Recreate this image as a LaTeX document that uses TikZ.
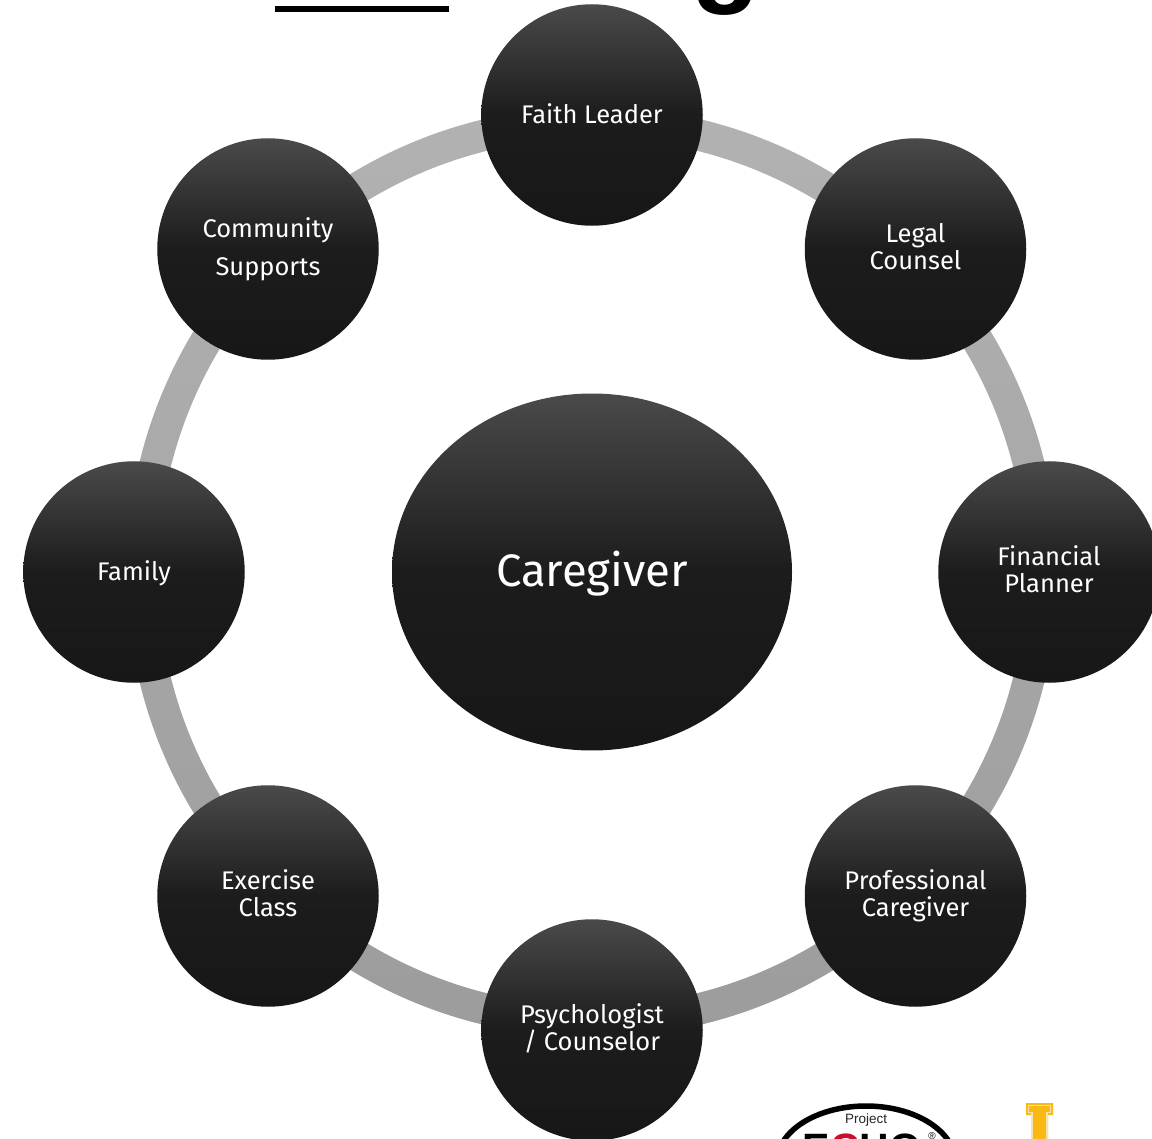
\documentclass[tikz,border=0pt]{standalone}
\usepackage{fontspec}
\setmainfont{Fira Sans}
\newfontfamily\logofont{Liberation Sans}
\usetikzlibrary{calc,shapes.geometric}
\definecolor{ringtop}{HTML}{B2B2B2}
\definecolor{ringbot}{HTML}{9C9C9C}
\definecolor{ctop}{HTML}{4A4A4A}
\definecolor{cbot}{HTML}{171717}
\definecolor{cmid}{HTML}{1C1C1C}
\definecolor{gold}{HTML}{FDB913}
\definecolor{cream}{HTML}{F3E3B0}
\definecolor{echored}{HTML}{C8102E}
\tikzset{
  x=1pt,y=-1pt,
  ball/.style={circle,minimum size=221.5pt,inner sep=0pt,text=white,align=center,
    top color=ctop,bottom color=cbot,middle color=cmid,
    execute at begin node={\rule{0pt}{0.86em}},
    execute at end node=\vphantom{gp},
    font=\fontsize{25.5}{27}\selectfont},
  centre/.style={ellipse,minimum width=400pt,minimum height=357pt,inner sep=0pt,text=white,
    top color=ctop,bottom color=cbot,middle color=cmid,
    execute at begin node={\rule{0pt}{0.83em}},
    execute at end node=\vphantom{gp},
    font=\fontsize{45.5}{50}\selectfont},
}
\begin{document}
\begin{tikzpicture}
\useasboundingbox (0,0) rectangle (1152,1139);
\begin{scope}
\clip (0,0) rectangle (1152,1139);
% ring
\shade[top color=ringtop,bottom color=ringbot,even odd rule]
  (592,572) circle[radius=465.5] (592,572) circle[radius=434];
% title fragments
\fill[black] (275,6) rectangle (449,12);
\node[anchor=base,font=\logofont\fontsize{113}{113}\selectfont\bfseries,text=black,inner sep=0pt] (titleg) at (726,-8) {g};
% nodes
\node[centre] (care) at (592,572) {Caregiver};
\node[ball] (faith) at (592,115) {Faith Leader};
\node[ball] (legal) at (915.5,249) {Legal\\Counsel};
\node[ball] (fin) at (1049,572) {Financial\\Planner};
\node[ball] (prof) at (915.5,896) {Professional\\Caregiver};
\node[ball] (psy) at (592,1030) {Psychologist\\/ Counselor};
\node[ball] (ex) at (268,896) {Exercise\\Class};
\node[ball] (fam) at (134,572) {Family};
\node[ball,font=\fontsize{25.5}{38}\selectfont] (comm) at (268,249) {Community\\Supports};
% logo
\draw[line width=5.5pt,black] (866,1162) ellipse[x radius=89,y radius=56];
\node[font=\logofont\fontsize{13.5}{14}\selectfont,text=black!85,inner sep=0pt] (proj) at (866,1120) {Project};
\node[anchor=base,font=\logofont\fontsize{41}{41}\selectfont\bfseries,inner sep=0pt] (echo) at (862,1162.5) {E\textcolor{echored}{C}HO};
\node[font=\logofont\fontsize{10}{10}\selectfont,inner sep=0pt] (reg) at (932,1136) {®};
% I logo
\fill[gold] (1026,1103) -- (1053,1103) -- (1053,1115) -- (1048,1115) -- (1048,1145) -- (1031,1145) -- (1031,1115) -- (1026,1115) -- cycle;
\draw[cream,line width=1.2pt] (1032,1145) -- (1032,1112.5) -- (1028.5,1112.5) -- (1028.5,1105.5) -- (1050.5,1105.5) -- (1050.5,1112.5) -- (1047,1112.5) -- (1047,1145);
\end{scope}
\end{tikzpicture}
\end{document}
